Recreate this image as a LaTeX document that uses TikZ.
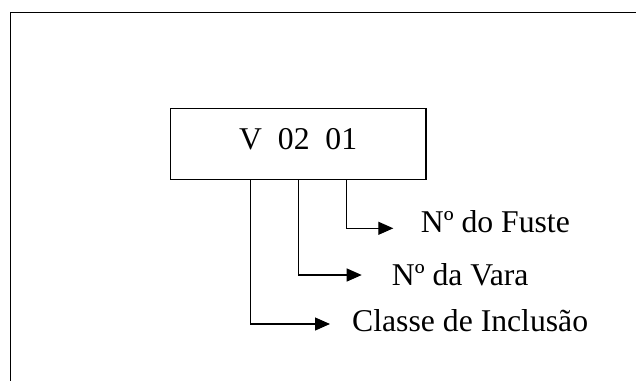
\documentclass[tikz,border=0pt]{standalone}
\usepackage{fontspec}
\setmainfont{Liberation Serif}
\usetikzlibrary{arrows.meta, positioning, calc}

\begin{document}
\begin{tikzpicture}[
  x=1pt, y=-1pt,
  codebox/.style={draw, line width=1.2pt, minimum width=255.5pt, minimum height=71pt, inner sep=0pt, text height=21pt, text depth=9.6pt, font=\fontsize{31.7}{38}\selectfont},
  lbl/.style={anchor=base west, inner sep=0pt, font=\fontsize{31.7}{38}\selectfont},
  conn/.style={line width=1.2pt, -{Triangle[length=15pt, width=13pt]}}
]
  \useasboundingbox (0,0) rectangle (636,380);
  \clip (0,0) rectangle (636,380);
  % outer frame, runs off to the right and below
  \draw[line width=1.6pt] (10.3,12.5) rectangle (660,400);

  \node[codebox] (code) at (298.2,143.8) {V\ \ 02\ \ 01};

  \coordinate (tipfuste) at (393.3,228.3);
  \coordinate (tipvara) at (361.7,275);
  \coordinate (tipclasse) at (330,324);

  \node[lbl] (fuste) at (420.7,232.3) {Nº do Fuste};
  \node[lbl] (vara) at (391.7,285) {Nº da Vara};
  \node[lbl] (classe) at (352,331) {Classe de Inclusão};

  \draw[conn] ([xshift=48pt]code.south) |- (tipfuste);
  \draw[conn] (code.south) |- (tipvara);
  \draw[conn] ([xshift=-48pt]code.south) |- (tipclasse);
\end{tikzpicture}
\end{document}
